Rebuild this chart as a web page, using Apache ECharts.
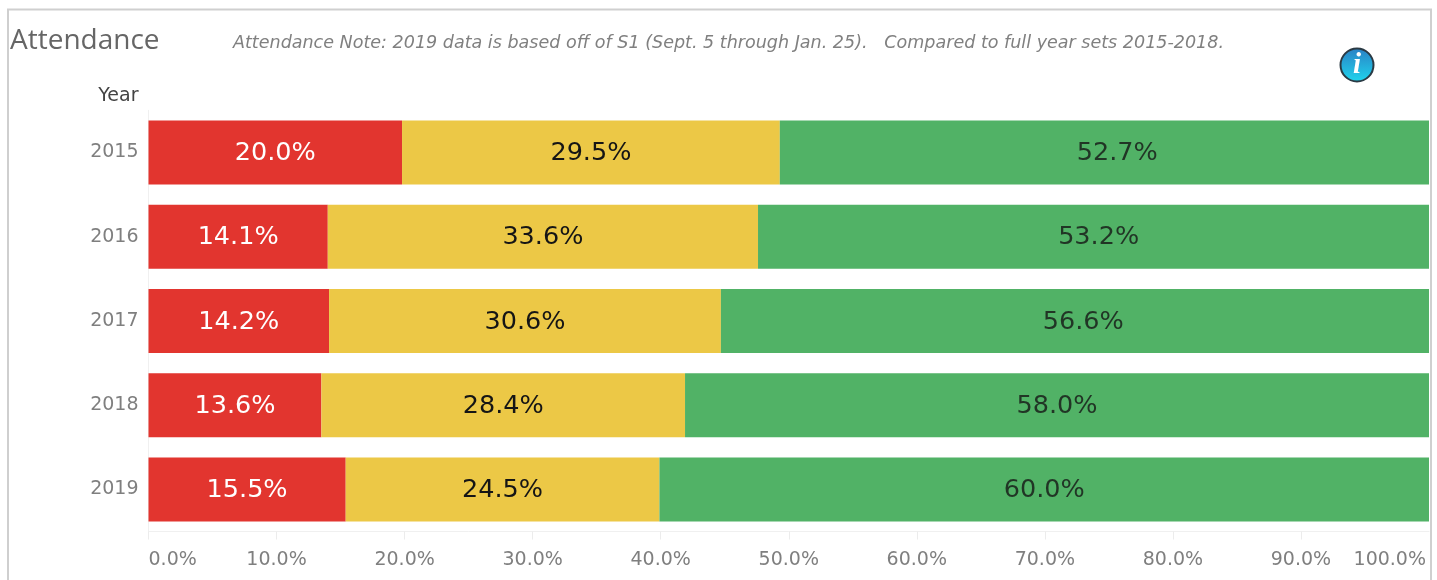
<!DOCTYPE html>
<html><head><meta charset="utf-8">
<style>html,body{margin:0;padding:0;background:#fff;overflow:hidden}#c{width:1437px;height:580px}</style>
<script src="https://cdn.jsdelivr.net/npm/echarts@6/dist/echarts.min.js"></script>
</head><body><div id="c"></div>
<script>
const years = ['2015','2016','2017','2018','2019'];
const redValues = [19.8,14.0,14.1,13.5,15.4];
const yellowValues = [29.5,33.6,30.6,28.4,24.5];
const greenValues = [52.7,53.2,56.6,58.1,60.1];
const redLabels = ['20.0%','14.1%','14.2%','13.6%','15.5%'];
const yellowLabels = ['29.5%','33.6%','30.6%','28.4%','24.5%'];
const greenLabels = ['52.7%','53.2%','56.6%','58.0%','60.0%'];
const xTicks = [0,10,20,30,40,50,60,70,80,90];
const titleText = 'Attendance';
const noteText = 'Attendance Note: 2019 data is based off of S1 (Sept. 5 through Jan. 25).   Compared to full year sets 2015-2018.';
const FONT = '"DejaVu Sans", sans-serif';
const chart = echarts.init(document.getElementById('c'), null, {renderer:'canvas'});
function seg(name, values, labels, color, textColor){
  return {name, type:'bar', stack:'a', data:values, barWidth:64, itemStyle:{color},
    label:{show:!!labels, position:'inside', offset:[0,1], fontFamily:FONT, fontSize:25.5, color:textColor,
      formatter:p=>labels[p.dataIndex]}};
}
// Green bars run past the 100% axis end and are clipped; their labels stay centred on the full bar.
const greenLabelPoints = years.map((y,i)=>[redValues[i]+yellowValues[i]+greenValues[i]/2, y]);
chart.setOption({
  animation:false,
  title:[
    {text:titleText,left:5,top:22,textStyle:{fontFamily:'"Open Sans", sans-serif',fontSize:28,fontWeight:'normal',color:'#666'}},
    {text:noteText,left:228,top:29,textStyle:{fontFamily:FONT,fontSize:17.55,fontStyle:'italic',fontWeight:'normal',color:'#808080'}}
  ],
  grid:{left:148.5,top:110.3,width:1280.5,height:421.25},
  xAxis:{type:'value',min:0,max:100,interval:10,splitLine:{show:false},
    axisLine:{show:true,lineStyle:{color:'#f0f0f0'}},
    axisTick:{show:true,length:8,lineStyle:{color:'#ececec'},customValues:xTicks},
    axisLabel:{margin:19,fontFamily:FONT,fontSize:19,color:'#7f7f7f',
      formatter:v=>v===100?'{m|'+v.toFixed(1)+'%}':v.toFixed(1)+'%',
      rich:{m:{fontFamily:FONT,fontSize:19,color:'#7f7f7f',padding:[0,3,0,0]}},
      alignMinLabel:'left',alignMaxLabel:'right'}},
  yAxis:{type:'category',data:years,inverse:true,name:'Year',nameLocation:'start',nameGap:5,
    nameTextStyle:{fontFamily:FONT,fontSize:19,color:'#444',align:'right',padding:[0,10,0,0]},
    axisLine:{show:true,lineStyle:{color:'#f0f0f0'}},axisTick:{show:false},
    axisLabel:{margin:10,padding:[2,0,0,0],fontFamily:FONT,fontSize:19,color:'#7f7f7f'}},
  series:[
    seg('Red',redValues,redLabels,'#e2352f','#fff'),
    seg('Yellow',yellowValues,yellowLabels,'#ecc846','#151515'),
    seg('Green',greenValues,null,'#51b266','#151515'),
    {name:'Green labels',type:'scatter',data:greenLabelPoints,symbolSize:0,silent:true,z:5,
      label:{show:true,position:'inside',offset:[0,1],fontFamily:FONT,fontSize:25.5,color:'#151515',
        formatter:p=>greenLabels[p.dataIndex]}}
  ],
  graphic:[
    {type:'polyline',z:50,shape:{points:[[8,580],[8,9.5],[1431,9.5],[1431,580]]},style:{fill:null,stroke:'#cfcfcf',lineWidth:2}},
    {type:'circle',z:50,shape:{cx:1357,cy:65,r:16.5},style:{stroke:'#2b3a44',lineWidth:2,
      fill:new echarts.graphic.LinearGradient(0,0,0,1,[{offset:0,color:'#2a7fc4'},{offset:1,color:'#1fd6ee'}])}},
    {type:'text',z:51,style:{x:1357,y:66,text:'i',align:'center',verticalAlign:'middle',fill:'#fff',font:'italic bold 29px "Liberation Serif", serif'}}
  ]
});
</script></body></html>
